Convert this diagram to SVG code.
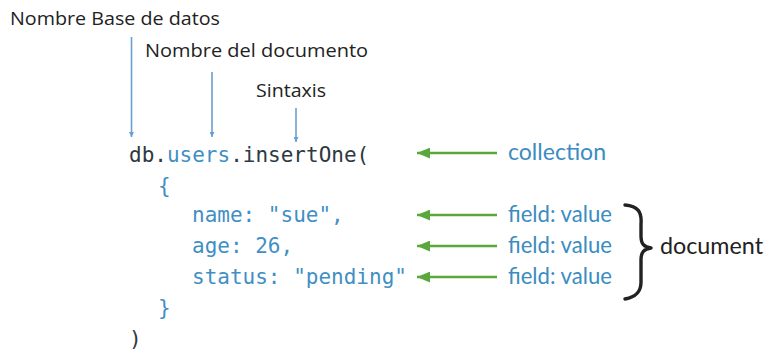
<svg xmlns="http://www.w3.org/2000/svg" width="766" height="356" viewBox="0 0 766 356">
  <style>
    .label { font-family: "Open Sans", "Liberation Sans", sans-serif; font-size: 18px; fill: #222; }
    .code { font-family: "DejaVu Sans Mono", "Liberation Mono", monospace; font-size: 21px; fill: #2e3842; }
    .key { fill: #3f8fc4; }
    .note { font-family: "Lato", "Open Sans", sans-serif; font-size: 23px; fill: #3a8cc2; }
    .doc { font-family: "Lato", "Open Sans", sans-serif; font-size: 23px; fill: #222; }
    .blue-arrow { stroke: #6b9fcf; stroke-width: 1.6; fill: none; }
    .green-arrow { stroke: #5aa83c; stroke-width: 2.6; fill: none; }
  </style>
  <defs>
    <marker id="blueHead" viewBox="0 0 10 10" refX="10" refY="5" markerWidth="5" markerHeight="5" markerUnits="userSpaceOnUse" orient="auto">
      <path d="M0,0 L10,5 L0,10 z" fill="#6b9fcf"/>
    </marker>
    <marker id="greenHead" viewBox="0 0 12 10" refX="12" refY="5" markerWidth="13" markerHeight="11" markerUnits="userSpaceOnUse" orient="auto">
      <path d="M0,0 L12,5 L0,10 z" fill="#5aa83c"/>
    </marker>
  </defs>

  <rect width="766" height="356" fill="#ffffff"/>

  <!-- Labels above the code -->
  <g id="label-db">
    <text class="label" x="10" y="25" textLength="210" lengthAdjust="spacingAndGlyphs">Nombre Base de datos</text>
  </g>
  <g id="label-doc">
    <text class="label" x="145" y="57" textLength="223" lengthAdjust="spacingAndGlyphs">Nombre del documento</text>
  </g>
  <g id="label-syntax">
    <text class="label" x="256" y="97" textLength="70" lengthAdjust="spacingAndGlyphs">Sintaxis</text>
  </g>

  <!-- Code sample -->
  <g id="code">
    <text class="code" x="129" y="162">db.<tspan class="key">users</tspan>.insertOne(</text>
    <text class="code key" x="158" y="193">{</text>
    <text class="code key" x="192" y="222">name: "sue",</text>
    <text class="code key" x="192" y="253">age: 26,</text>
    <text class="code key" x="192" y="284">status: "pending"</text>
    <text class="code key" x="158" y="315">}</text>
    <text class="code" x="129" y="346">)</text>
  </g>

  <!-- Annotations on the right -->
  <g id="note-collection">
    <text class="note" x="508" y="160" textLength="98" lengthAdjust="spacingAndGlyphs">collection</text>
  </g>
  <g id="note-fields">
    <text class="note" x="508" y="222" textLength="104" lengthAdjust="spacingAndGlyphs">field: value</text>
    <text class="note" x="508" y="253" textLength="104" lengthAdjust="spacingAndGlyphs">field: value</text>
    <text class="note" x="508" y="284" textLength="104" lengthAdjust="spacingAndGlyphs">field: value</text>
  </g>
  <g id="note-document">
    <path d="M625,205 C638,206 642,212 641,224 L641,236 C641,244 644,247 651,248 C644,249 641,252 641,260 L641,282 C641,292 636,297 625,299" fill="none" stroke="#222" stroke-width="3.4" stroke-linecap="round" stroke-linejoin="round"/>
    <text class="doc" x="660" y="254" textLength="103" lengthAdjust="spacingAndGlyphs">document</text>
  </g>

  <!-- Connectors -->
  <g id="connectors">
    <line class="blue-arrow" x1="131.5" y1="37" x2="131.5" y2="137" marker-end="url(#blueHead)"/>
    <line class="blue-arrow" x1="212" y1="72" x2="212" y2="137" marker-end="url(#blueHead)"/>
    <line class="blue-arrow" x1="296" y1="108" x2="296" y2="142" marker-end="url(#blueHead)"/>
    <line class="green-arrow" x1="497" y1="153" x2="417" y2="153" marker-end="url(#greenHead)"/>
    <line class="green-arrow" x1="497" y1="215" x2="417" y2="215" marker-end="url(#greenHead)"/>
    <line class="green-arrow" x1="497" y1="246" x2="417" y2="246" marker-end="url(#greenHead)"/>
    <line class="green-arrow" x1="497" y1="277" x2="417" y2="277" marker-end="url(#greenHead)"/>
  </g>
</svg>
